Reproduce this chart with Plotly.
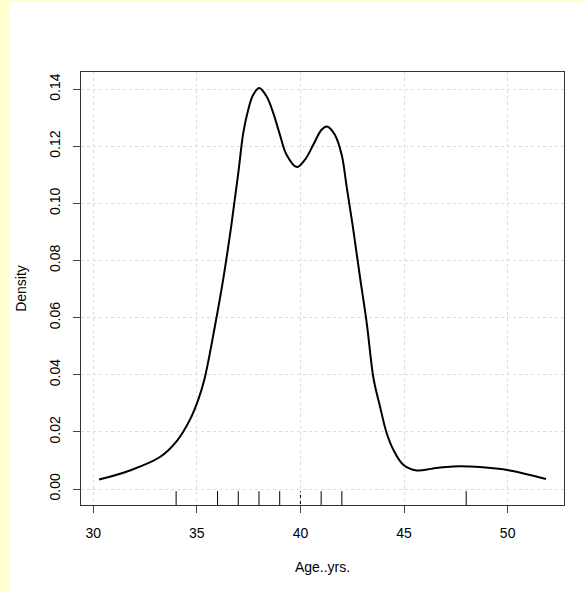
import plotly.graph_objects as go

# Density curve
age = [30.28, 31.77, 33.22, 34.02, 34.67, 35.07, 35.37, 35.87, 36.27, 36.68, 37.0, 37.24,
       37.48, 37.72, 38.01, 38.37, 38.69, 39.01, 39.33, 39.82, 40.22, 40.62, 41.02, 41.29,
       41.66, 41.99, 42.23, 42.55, 42.87, 43.2, 43.53, 43.84, 44.16, 44.48, 44.96, 45.61,
       46.41, 47.37, 48.66, 50.11, 51.85]
density = [0.0033, 0.0065, 0.0112, 0.0167, 0.0243, 0.0313, 0.0385, 0.0569, 0.0733, 0.0931,
           0.1106, 0.1246, 0.1328, 0.138, 0.1404, 0.1374, 0.1316, 0.124, 0.117, 0.1127,
           0.1153, 0.1205, 0.1258, 0.1269, 0.124, 0.117, 0.1059, 0.0908, 0.0744, 0.0581,
           0.0386, 0.0289, 0.0196, 0.0138, 0.0085, 0.0065, 0.0072, 0.0079, 0.0077, 0.0065,
           0.0035]
rug_ages = [34, 36, 37, 38, 39, 40, 41, 42, 48]

x_ticks = [30, 35, 40, 45, 50]
y_ticks = [0.00, 0.02, 0.04, 0.06, 0.08, 0.10, 0.12, 0.14]
y_tick_text = ["0.00", "0.02", "0.04", "0.06", "0.08", "0.10", "0.12", "0.14"]

W, H = 585, 592
ml, mr, mt, mb = 81, 21, 72, 87
pw, ph = W - ml - mr, H - mt - mb

fig = go.Figure()
fig.add_trace(go.Scatter(x=age, y=density, mode="lines",
                         line=dict(color="black", width=2, shape="spline", smoothing=1.0),
                         hoverinfo="skip", showlegend=False))

shapes = []
# white page area inside the yellow frame strips
shapes.append(dict(type="rect", xref="paper", yref="paper",
                   x0=(9 - ml) / pw, x1=(W - ml + 5) / pw,
                   y0=-(mb + 5) / ph, y1=(H - mb - 2) / ph,
                   fillcolor="white", line=dict(width=0), layer="below"))
for a in rug_ages:
    shapes.append(dict(type="line", xref="x", yref="y domain", x0=a, x1=a, y0=0, y1=0.032,
                       line=dict(color="black", width=1), layer="below"))

fig.update_layout(
    width=W, height=H,
    margin=dict(l=ml, r=mr, t=mt, b=mb, pad=0),
    paper_bgcolor="#ffffd0",
    plot_bgcolor="white",
    font=dict(family="Liberation Sans, Arial, sans-serif", size=14, color="black"),
    shapes=shapes,
    xaxis=dict(range=[29.41, 52.72], tickmode="array", tickvals=x_ticks,
               ticks="outside", ticklen=7, tickcolor="#444", tickwidth=1,
               showline=True, linecolor="#333", linewidth=1, mirror=True,
               showgrid=True, gridcolor="#dcdcdc", griddash="dot", gridwidth=1,
               zeroline=False, ticklabelstandoff=8,
               title=dict(text="Age..yrs.", standoff=22, font=dict(size=14))),
    yaxis=dict(range=[-0.0056, 0.146], tickmode="array", tickvals=y_ticks, ticktext=y_tick_text,
               ticks="outside", ticklen=7, tickcolor="#444", tickwidth=1, tickangle=-90,
               showline=True, linecolor="#333", linewidth=1, mirror=True,
               showgrid=True, gridcolor="#dcdcdc", griddash="dot", gridwidth=1,
               zeroline=False, ticklabelstandoff=7,
               title=dict(text="Density", standoff=17, font=dict(size=14))),
)

fig.write_html("out.html", config={"displayModeBar": False},
               post_script="document.body.style.margin='0';document.body.style.padding='0';")
